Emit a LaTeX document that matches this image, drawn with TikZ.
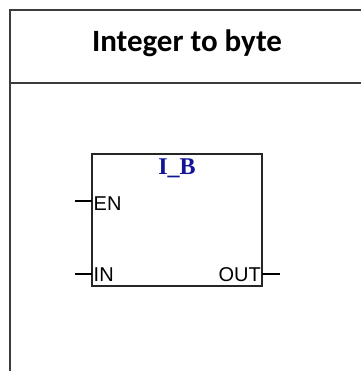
\documentclass[tikz,border=0pt]{standalone}
\usepackage{fontspec}
\setmainfont{Liberation Sans}
\newfontfamily\titlefont{Carlito}
\newfontfamily\serifb{Liberation Serif}
\definecolor{blockblue}{RGB}{20,20,150}
\definecolor{framegray}{RGB}{60,60,60}
\begin{document}
\begin{tikzpicture}[x=1pt,y=-1pt,
  frame/.style={draw=framegray,line width=2pt},
  blockline/.style={draw=black!85,line width=1.4pt},
  pin/.style={font=\fontsize{20}{20}\selectfont,inner sep=0pt}]
\useasboundingbox (0,0) rectangle (361,371);
\fill[white] (0,0) rectangle (361,371);
% outer table frame
\coordinate (tl) at (10,10);
\coordinate (tr) at (361,10);
\coordinate (ml) at (10,83);
\coordinate (mr) at (361,83);
\coordinate (bl) at (10,371);
\draw[frame] (tr) -- (tl) -- (bl);
\draw[frame] (ml) -- (mr);
\node[font=\titlefont\bfseries\fontsize{31}{31}\selectfont,anchor=base,inner sep=0pt] (title) at (187,52) {Integer to byte};
% block
\node[blockline,minimum width=170pt,minimum height=132pt,inner sep=0pt] (blk) at (177,220) {};
\node[font=\serifb\bfseries\fontsize{24}{24}\selectfont,text=blockblue,anchor=base,inner sep=0pt] (name) at (177,175) {I\_B};
\coordinate (enl) at (75,201);
\coordinate (enr) at (92,201);
\coordinate (inl) at (75,274);
\coordinate (inr) at (92,274);
\coordinate (outl) at (262,274);
\coordinate (outr) at (280,274);
\draw[line width=1.3pt] (enl) -- (enr);
\draw[line width=1.3pt] (inl) -- (inr);
\draw[line width=1.3pt] (outl) -- (outr);
\node[pin,anchor=base west] (en) at (93.5,210) {EN};
\node[pin,anchor=base west] (in) at (93.5,281) {IN};
\node[pin,anchor=base east] (out) at (261,281) {OUT};
\end{tikzpicture}
\end{document}
